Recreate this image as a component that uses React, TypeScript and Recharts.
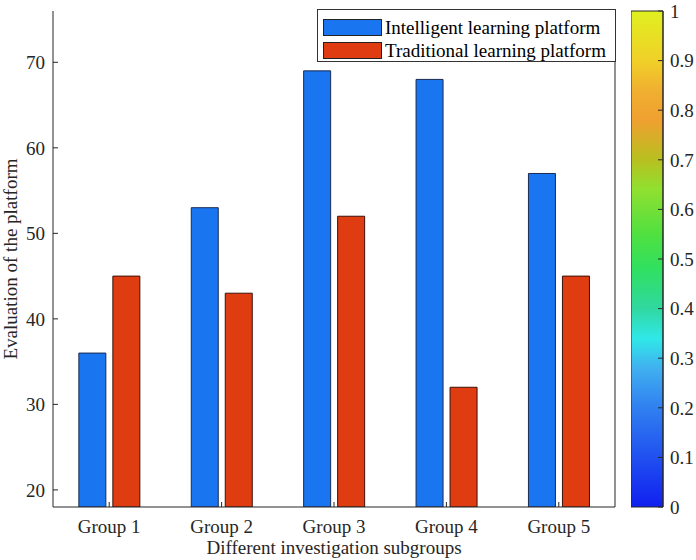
import { BarChart, Bar, XAxis, YAxis, Legend } from "recharts";

const groups = ["Group 1", "Group 2", "Group 3", "Group 4", "Group 5"];
const intelligent = [36, 53, 69, 68, 57];
const traditional = [45, 43, 52, 32, 45];
const yTicks = [20, 30, 40, 50, 60, 70];
const cbTicks = [0, 0.1, 0.2, 0.3, 0.4, 0.5, 0.6, 0.7, 0.8, 0.9, 1];

const data = groups.map((g, i) => ({ group: g, intelligent: intelligent[i], traditional: traditional[i] }));
const cbData = [{ name: "cb", value: 1 }];

const FONT = "'Liberation Serif', 'Times New Roman', serif";
const tickStyle = { fontSize: 19, fill: "#262626", fontFamily: FONT };
const AXIS = "#262626";

// colormap of the colorbar, top (1) to bottom (0)
const cmap: [number, string][] = [
  [0, "#e0f020"],
  [0.1, "#f0d028"],
  [0.16, "#f0b030"],
  [0.22, "#f0a030"],
  [0.3, "#b8c020"],
  [0.36, "#90e030"],
  [0.45, "#50e040"],
  [0.52, "#30e060"],
  [0.6, "#30d8a0"],
  [0.66, "#30e8e8"],
  [0.72, "#40b0f0"],
  [0.8, "#3080f0"],
  [0.9, "#2050f0"],
  [1, "#1020f0"],
];

const renderLegend = (props: any) => {
  const items = props.payload || [];
  return (
    <div style={{ border: "1px solid #333", background: "#fff", height: "100%", boxSizing: "border-box", padding: "6px 0 0 5px" }}>
      {items.map((it: any) => (
        <div key={it.value} style={{ display: "flex", alignItems: "center", height: 23, fontFamily: FONT, fontSize: 19, color: "#000", whiteSpace: "nowrap" }}>
          <span style={{ display: "inline-block", width: 57, height: 15, background: it.color, border: "1px solid #222", marginRight: 3 }} />
          {it.value}
        </div>
      ))}
    </div>
  );
};

const yLabel = (props: any) => {
  const vb = props.viewBox;
  const cx = 10;
  const cy = vb.y + vb.height / 2;
  return (
    <text x={cx} y={cy} transform={`rotate(-90, ${cx}, ${cy})`} textAnchor="middle" dominantBaseline="central" style={{ fontSize: 19, fontFamily: FONT, fill: "#262626" }}>
      Evaluation of the platform
    </text>
  );
};

export default function App() {
  return (
    <div style={{ position: "absolute", left: 0, top: 0, width: 696, height: 560, background: "#fff" }}>
      <div style={{ position: "absolute", left: 0, top: 0 }}>
        <BarChart width={696} height={560} data={data} margin={{ top: 11, right: 0, bottom: 0, left: 0 }} barGap={7} barCategoryGap="23%">
          <XAxis
            dataKey="group"
            height={53}
            stroke={AXIS}
            tickSize={-5}
            tickMargin={18}
            tick={tickStyle}
            label={{ value: "Different investigation subgroups", position: "insideBottom", offset: 6, style: tickStyle }}
          />
          <XAxis xAxisId="top" dataKey="group" orientation="top" height={0} stroke={AXIS} tickSize={-5} tick={false} />
          <YAxis
            width={53}
            domain={[18, 76]}
            ticks={yTicks}
            allowDataOverflow
            stroke={AXIS}
            tickSize={-5}
            tickMargin={13}
            tick={tickStyle}
            label={yLabel}
          />
          <YAxis yAxisId="r" orientation="right" width={81} domain={[18, 76]} ticks={yTicks} stroke={AXIS} tickSize={-5} tick={false} />
          <Legend
            layout="horizontal"
            verticalAlign="middle"
            align="center"
            content={renderLegend}
            wrapperStyle={{ position: "absolute", left: 317, top: 9, width: 299, height: 53 }}
          />
          <Bar dataKey="intelligent" name="Intelligent learning platform" fill="#1a75f0" stroke="#1a2a50" strokeWidth={1} isAnimationActive={false} />
          <Bar dataKey="traditional" name="Traditional learning platform" fill="#e03c12" stroke="#3a1008" strokeWidth={1} isAnimationActive={false} />
        </BarChart>
      </div>
      <div style={{ position: "absolute", left: 631, top: 0 }}>
        <BarChart width={65} height={560} data={cbData} margin={{ top: 11, right: 0, bottom: 53, left: 0 }} barCategoryGap={0}>
          <defs>
            <linearGradient id="cmap" x1="0" y1="0" x2="0" y2="1">
              {cmap.map(([o, c]) => (
                <stop key={o} offset={o} stopColor={c} />
              ))}
            </linearGradient>
          </defs>
          <XAxis dataKey="name" hide />
          <YAxis
            orientation="right"
            width={33}
            domain={[0, 1]}
            ticks={cbTicks}
            stroke={AXIS}
            tickSize={-5}
            tickMargin={12}
            tick={tickStyle}
          />
          <Bar dataKey="value" fill="url(#cmap)" stroke="#262626" strokeWidth={1} isAnimationActive={false} />
        </BarChart>
      </div>
    </div>
  );
}
